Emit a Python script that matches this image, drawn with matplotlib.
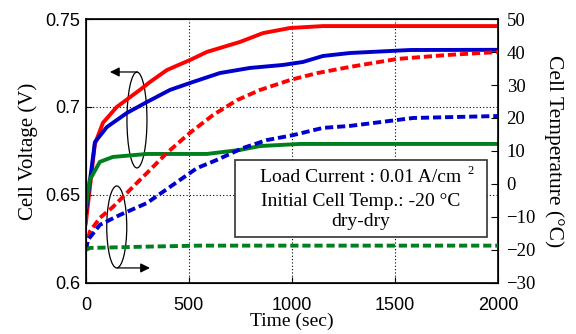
import matplotlib
matplotlib.use('Agg')
import matplotlib.pyplot as plt
from matplotlib.patches import Ellipse, Rectangle
import numpy as np

# cell voltage (left axis)
t_red_v = [0, 44, 83, 150, 262, 311, 393, 505, 587, 748, 859, 990, 1150, 2000]
v_red = [0.634, 0.679, 0.691, 0.700, 0.7097, 0.7142, 0.721, 0.7267, 0.7313,
         0.737, 0.742, 0.7449, 0.746, 0.746]

t_blue_v = [0, 44, 102, 199, 296, 408, 519, 650, 796, 956, 1053, 1150, 1282, 1573, 2000]
v_blue = [0.640, 0.680, 0.6886, 0.6966, 0.7028, 0.7097, 0.7142, 0.7193, 0.7222,
          0.7239, 0.7256, 0.729, 0.7307, 0.7324, 0.7325]

t_green_v = [0, 19, 68, 131, 296, 587, 748, 845, 1039, 2000]
v_green = [0.643, 0.6585, 0.6688, 0.6716, 0.6733, 0.6733, 0.6756, 0.6778, 0.679, 0.679]

# cell temperature (right axis)
t_red_T = [0, 19, 68, 131, 214, 296, 393, 505, 617, 733, 845, 990, 1121, 1282, 1510, 1752, 2000]
T_red = [-20, -14.5, -10.3, -7, -1.8, 3.3, 9.4, 15.5, 20.9, 25.4, 28.5, 31.5,
         33.6, 35.5, 37.9, 39.1, 40]

t_blue_T = [0, 10, 68, 165, 296, 422, 539, 636, 762, 878, 1005, 1150, 1282, 1587, 2000]
T_blue = [-20, -17, -12.4, -9.4, -5.8, -0.3, 4.8, 7.3, 10.9, 13.3, 14.8, 17,
          17.6, 20, 20.6]

t_green_T = [0, 20, 300, 550, 2000]
T_green = [-20, -19.4, -19, -18.7, -18.7]

RED = '#ff0000'
BLUE = '#0000cc'
GREEN = '#007f1e'
LW = 2.8
DASH = (2.1, 1.0)
SERIF = 'Liberation Serif'
SANS = 'Liberation Sans'

fig = plt.figure(figsize=(5.76, 3.34), dpi=100)
ax = fig.add_axes([0.149, 0.153, 0.716, 0.790])
ax2 = ax.twinx()

ax.plot(t_red_v, v_red, color=RED, lw=LW)
ax.plot(t_blue_v, v_blue, color=BLUE, lw=LW)
ax.plot(t_green_v, v_green, color=GREEN, lw=LW)

ax2.plot(t_red_T, T_red, color=RED, lw=LW, dashes=DASH)
ax2.plot(t_blue_T, T_blue, color=BLUE, lw=LW, dashes=DASH)
ax2.plot(t_green_T, T_green, color=GREEN, lw=LW, dashes=DASH)

ax.set_xlim(0, 2000)
ax.set_ylim(0.6, 0.75)
ax2.set_ylim(-30, 50)

ax.set_xticks([0, 500, 1000, 1500, 2000])
ax.set_yticks([0.6, 0.65, 0.7, 0.75])
ax.set_yticklabels(['0.6', '0.65', '0.7', '0.75'])
ax2.set_yticks(np.arange(-30, 51, 10))

ax.grid(True, color='black', ls=(0, (1, 2)), lw=0.8)
ax.tick_params(axis='y', direction='in', length=4, labelsize=13, pad=4)
ax.tick_params(axis='x', direction='in', length=4, labelsize=13, pad=10)
for lab in ax.get_xticklabels() + ax.get_yticklabels():
    lab.set_fontfamily(SANS)
ax2.tick_params(direction='in', length=5, labelsize=13.5, pad=6)
for lab in ax2.get_yticklabels():
    lab.set_fontfamily(SERIF)

ax.set_xlabel('Time (sec)', fontsize=14, family=SERIF, labelpad=-1)
ax.set_ylabel('Cell Voltage (V)', fontsize=15, family=SERIF, labelpad=5)
ax2.set_ylabel('Cell Temperature (°C)', fontsize=15.5, family=SERIF,
               rotation=270, labelpad=20)

for sp in ax.spines.values():
    sp.set_linewidth(1.2)

# ellipse markers pointing to the matching axis
ax.add_patch(Ellipse((248, 0.6926), 97, 0.0545, fill=False, ec='black', lw=0.9))
ax.annotate('', xy=(117, 0.7199), xytext=(250, 0.7199),
            arrowprops=dict(arrowstyle='-|>', color='black', lw=0.9,
                            mutation_scale=14, shrinkA=0, shrinkB=0))
ax.add_patch(Ellipse((150, 0.6318), 97, 0.0466, fill=False, ec='black', lw=0.9))
ax.annotate('', xy=(311, 0.6085), xytext=(153, 0.6085),
            arrowprops=dict(arrowstyle='-|>', color='black', lw=0.9,
                            mutation_scale=14, shrinkA=0, shrinkB=0))

# condition box
ax.add_patch(Rectangle((723, 0.6261), 1224, 0.0438, fill=True, fc='white',
                       ec='#333333', lw=1.2, zorder=5))
ax.text(1335, 0.6597, 'Load Current : 0.01 A/cm', ha='center', va='center',
        fontsize=14, family=SERIF, zorder=6)
ax.text(1864, 0.6635, '2', ha='center', va='center', fontsize=9,
        family=SERIF, zorder=6)
ax.text(1335, 0.6462, 'Initial Cell Temp.: -20 °C', ha='center', va='center',
        fontsize=14, family=SERIF, zorder=6)
ax.text(1335, 0.6349, 'dry-dry', ha='center', va='center',
        fontsize=14, family=SERIF, zorder=6)

plt.savefig('out.png', dpi=100)
